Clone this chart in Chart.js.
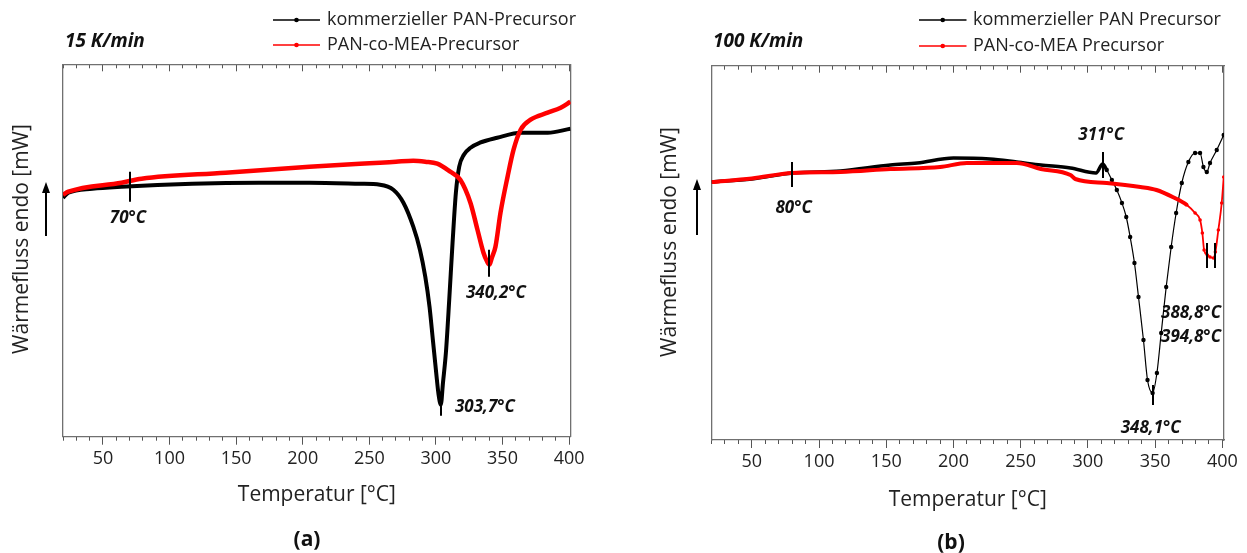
<!DOCTYPE html>
<html><head><meta charset="utf-8">
<script src="https://cdn.jsdelivr.net/npm/chart.js@4.4.1/dist/chart.umd.min.js"></script>
<style>
html,body{margin:0;padding:0;background:#fff;width:1247px;height:553px;overflow:hidden;}
canvas{position:absolute;top:0;}
#ca{left:0;} #cb{left:620px;}
</style></head><body>
<canvas id="ca" width="620" height="553"></canvas>
<canvas id="cb" width="627" height="553"></canvas>
<script>
// ---------- data (heat flow in arbitrary units) ----------
const xTickLabels = [50, 100, 150, 200, 250, 300, 350, 400];

// (a) 15 K/min
const aTitle = '15 K/min';
const aNames = ['kommerzieller PAN-Precursor', 'PAN-co-MEA-Precursor'];
const aBlackT = [20,24,42,64,117,167,205,243,258,268,275.6,283,288,292,295.2,297.7,300.2,302,303.7,305.3,307.5,310,312.5,315,317.5,321,326,333,346,364,384,401];
const aBlackV = [23.9,24.4,24.8,25.0,25.3,25.4,25.4,25.3,25.2,24.7,23.4,21.0,18.7,16.0,13.0,9.7,6.4,4.2,3.2,5.4,8.4,13.7,19.4,24.4,27.0,28.2,28.9,29.4,29.9,30.4,30.4,30.8];
const aRedT = [20,24,64,79,142,205,243,258,270,283,292,301,310.8,318.3,325.9,331.2,335.7,338.5,340.2,342,344.7,348.5,353.8,358.3,363.6,371.1,383.9,393.7,401];
const aRedV = [24.2,24.5,25.4,25.8,26.4,27.0,27.3,27.4,27.5,27.6,27.5,27.3,26.5,25.7,23.4,20.7,18.4,17.5,17.2,17.9,19.0,22.4,26.0,28.7,30.7,31.7,32.4,32.9,33.5];
const aPeakT = [70, 303.7, 340.2];
const aPeakText = ['70°C', '303,7°C', '340,2°C'];

// (b) 100 K/min
const bTitle = '100 K/min';
const bNames = ['kommerzieller PAN Precursor', 'PAN-co-MEA Precursor'];
const bBlackT = [20,50,80,116,153,173,200,227,247,265,287,306,311,314,317.8,321.5,325.3,328.5,331.4,334.6,337.6,341.3,344.3,348.1,351.3,354.5,358.2,361.9,365.6,369.8,374.7,379.7,383.4,385.9,388.4,390.8,395.8,401];
const bBlackV = [25.8,26.1,26.7,26.9,27.5,27.7,28.2,28.1,27.8,27.5,27.2,26.7,27.6,27.0,26.0,25.0,23.7,22.3,20.3,17.7,14.3,10.0,6.0,4.7,6.7,10.7,15.3,19.3,22.7,25.7,27.8,28.7,28.7,27.3,26.8,27.7,29.0,30.5];
const bRedT = [20,50,80,116,153,190,210,235,247,265,287,290.6,314,339,351,363,373.6,379.7,383.4,385.1,386.4,388.8,390.8,393.3,394.8,397,399.5,401];
const bRedV = [25.8,26.15,26.7,26.8,27.1,27.3,27.7,27.7,27.7,27.1,26.5,26.1,25.7,25.3,25.0,24.3,23.5,22.7,22.0,20.7,19.0,18.5,18.3,18.2,18.8,21.0,23.7,26.3];
const bPeakT = [80, 311, 348.1, 388.8, 394.8];
const bPeakText = ['80°C', '311°C', '348,1°C', '388,8°C', '394,8°C'];

// ---------- helpers ----------
Chart.defaults.font.family = '"Open Sans", "DejaVu Sans", sans-serif';
const BLACK = '#000000', RED = '#ff0000', AXIS = '#707070', TXT = '#222222';
const pts = (T, V) => T.map((t, i) => ({x: t, y: V[i]}));

const overlay = {
  id: 'overlay',
  beforeDatasetsDraw(chart, args, o) {
    const {ctx} = chart, xs = chart.scales.x, ys = chart.scales.y;
    ctx.save();
    ctx.fillStyle = '#111';
    ctx.font = 'italic bold 17px "Open Sans"';
    ctx.textAlign = 'center'; ctx.textBaseline = 'middle';
    o.labels.forEach(l => ctx.fillText(l.text, xs.getPixelForValue(l.t), ys.getPixelForValue(l.v)));
    ctx.restore();
  },
  afterDatasetsDraw(chart, args, o) {
    const {ctx} = chart, xs = chart.scales.x, ys = chart.scales.y;
    ctx.save();
    ctx.strokeStyle = '#000'; ctx.lineWidth = 2;
    o.markers.forEach(m => {
      const px = Math.round(xs.getPixelForValue(m.t));
      ctx.beginPath();
      ctx.moveTo(px, ys.getPixelForValue(m.y0));
      ctx.lineTo(px, ys.getPixelForValue(m.y1));
      ctx.stroke();
    });
    ctx.restore();
  },
  afterDraw(chart, args, o) {
    const {ctx} = chart;
    ctx.save();
    // panel heading
    ctx.fillStyle = '#111';
    ctx.font = 'italic bold 19px "Open Sans"';
    ctx.textAlign = 'left'; ctx.textBaseline = 'middle';
    ctx.fillText(o.heading.text, o.heading.x, o.heading.y);
    // legend
    ctx.font = '18px "Open Sans"';
    chart.data.datasets.forEach((ds, i) => {
      const y = o.legend.y[i];
      ctx.strokeStyle = ds.borderColor; ctx.lineWidth = 1.3;
      ctx.beginPath(); ctx.moveTo(o.legend.x0, y); ctx.lineTo(o.legend.x1, y); ctx.stroke();
      ctx.fillStyle = ds.borderColor;
      ctx.beginPath(); ctx.arc((o.legend.x0 + o.legend.x1) / 2, y, 2.3, 0, Math.PI * 2); ctx.fill();
      ctx.fillStyle = TXT;
      ctx.fillText(ds.label, o.legend.tx, y);
    });
    // y title
    ctx.save();
    ctx.translate(o.ytitle.x, o.ytitle.y);
    ctx.rotate(-Math.PI / 2);
    ctx.font = '21px "Open Sans"'; ctx.fillStyle = TXT;
    ctx.textAlign = 'center'; ctx.textBaseline = 'middle';
    ctx.fillText('Wärmefluss endo [mW]', 0, 0);
    ctx.restore();
    // arrow
    ctx.strokeStyle = '#000'; ctx.fillStyle = '#000'; ctx.lineWidth = 2;
    ctx.beginPath(); ctx.moveTo(o.arrow.x, o.arrow.y0); ctx.lineTo(o.arrow.x, o.arrow.y1 + 8); ctx.stroke();
    ctx.beginPath(); ctx.moveTo(o.arrow.x, o.arrow.y1); ctx.lineTo(o.arrow.x - 4, o.arrow.y1 + 11); ctx.lineTo(o.arrow.x + 4, o.arrow.y1 + 11); ctx.closePath(); ctx.fill();
    // panel letter
    ctx.font = 'bold 21px "Open Sans"'; ctx.fillStyle = '#111';
    ctx.textAlign = 'center';
    ctx.fillText(o.letter.text, o.letter.x, o.letter.y);
    ctx.restore();
  }
};

function hAxis(pos, step, tl, weight, xmax, extra) {
  return Object.assign({
    type: 'linear', position: pos, min: 20, max: xmax, weight: weight,
    ticks: {stepSize: step, includeBounds: false, display: false, autoSkip: false},
    grid: {drawOnChartArea: false, drawTicks: true, tickLength: tl, tickColor: '#555', tickWidth: 1},
    border: {display: false},
    afterFit: s => { s.height = 0; }
  }, extra || {});
}

function makeChart(id, p) {
  const thin = p.thin;
  const datasets = [
    {label: p.names[0], data: pts(p.blackT, p.blackV), borderColor: BLACK, backgroundColor: BLACK, order: 1,
     borderWidth: p.blackW, cubicInterpolationMode: 'monotone',
     segment: {borderWidth: c => (c.p0.parsed.x >= thin.black ? p.blackThinW : p.blackW)},
     pointRadius: c => (c.parsed && c.parsed.x >= thin.black ? p.blackDot : 0), pointHoverRadius: 0, pointBorderWidth: 0},
    {label: p.names[1], data: pts(p.redT, p.redV), borderColor: RED, backgroundColor: RED, order: 0,
     borderWidth: p.redW, cubicInterpolationMode: 'monotone',
     segment: {borderWidth: c => (c.p0.parsed.x >= thin.red ? p.redThinW : p.redW)},
     pointRadius: c => (c.parsed && c.parsed.x >= thin.red ? p.redDot : 0), pointHoverRadius: 0, pointBorderWidth: 0}
  ];
  return new Chart(document.getElementById(id), {
    type: 'line',
    data: {datasets},
    options: {
      responsive: false, animation: false, events: [],
      layout: {padding: {top: p.area.top, right: p.canvasW - p.area.right, bottom: 0, left: 0}},
      plugins: {legend: {display: false}, tooltip: {enabled: false}, overlay: p.overlay},
      scales: {
        x: {
          type: 'linear', position: 'bottom', min: 20, max: p.xmax, weight: 1,
          ticks: {stepSize: 50, includeBounds: false, autoSkip: false, maxRotation: 0, padding: 3,
                  color: TXT, font: {size: 18},
                  callback: v => (xTickLabels.includes(v) ? String(v) : '')},
          grid: {drawOnChartArea: false, tickLength: 8, tickColor: '#555', tickWidth: 1},
          border: {display: true, color: AXIS, width: 1.3},
          title: {display: true, text: 'Temperatur [°C]', color: TXT, font: {size: 21},
                  padding: {top: 0, bottom: p.xTitlePad}},
          afterFit: s => { s.height = 553 - p.area.bottom; }
        },
        xMinor: hAxis('bottom', 10, 4, 0, p.xmax),
        xTop: hAxis('top', 10, -4, 0, p.xmax, {border: {display: true, color: AXIS, width: 1.3}}),
        xTopMajor: hAxis('top', 50, -7, 1, p.xmax),
        y: {
          type: 'linear', position: 'left', min: 0, max: p.ymax,
          ticks: {display: false},
          grid: {drawOnChartArea: false, drawTicks: false},
          border: {display: true, color: AXIS, width: 1.3},
          afterFit: s => { s.width = p.area.left; }
        },
        yRight: {
          type: 'linear', position: 'right', min: 0, max: p.ymax,
          ticks: {display: false},
          grid: {drawOnChartArea: false, drawTicks: false},
          border: {display: true, color: AXIS, width: 1.3},
          afterFit: s => { s.width = 0; }
        }
      }
    },
    plugins: [overlay]
  });
}

makeChart('ca', {
  canvasW: 620, area: {left: 63, right: 570.7, top: 64.3, bottom: 436.7},
  xmax: 401.2, ymax: 37.24, xTitlePad: 45.4,
  names: aNames, blackT: aBlackT, blackV: aBlackV, redT: aRedT, redV: aRedV,
  blackW: 4, blackThinW: 4, blackDot: 0, redW: 4.5, redThinW: 4.5, redDot: 0,
  thin: {black: 1000, red: 1000},
  overlay: {
    heading: {text: aTitle, x: 65, y: 42},
    legend: {x0: 273, x1: 320, tx: 327, y: [20, 45]},
    ytitle: {x: 22, y: 239},
    arrow: {x: 46, y0: 236, y1: 182},
    letter: {text: '(a)', x: 307, y: 540},
    markers: [{t: aPeakT[0], y0: 23.5, y1: 26.5}, {t: aPeakT[1], y0: 2.1, y1: 4.5}, {t: aPeakT[2], y0: 16.0, y1: 18.7}],
    labels: [{text: aPeakText[0], t: 68.8, v: 21.9}, {text: aPeakText[1], t: 336.8, v: 3.0}, {text: aPeakText[2], t: 345.1, v: 14.4}]
  }
});

makeChart('cb', {
  canvasW: 627, area: {left: 91.5, right: 604, top: 65.7, bottom: 440},
  xmax: 401.2, ymax: 37.43, xTitlePad: 40.4,
  names: bNames, blackT: bBlackT, blackV: bBlackV, redT: bRedT, redV: bRedV,
  blackW: 3.5, blackThinW: 1.2, blackDot: 2.2, redW: 4, redThinW: 1.8, redDot: 1.8,
  thin: {black: 314, red: 372},
  overlay: {
    heading: {text: bTitle, x: 93, y: 42},
    legend: {x0: 299, x1: 346.5, tx: 353, y: [20, 46]},
    ytitle: {x: 50, y: 242},
    arrow: {x: 77, y0: 235, y1: 179},
    letter: {text: '(b)', x: 331, y: 543},
    markers: [{t: bPeakT[0], y0: 25.3, y1: 27.8}, {t: bPeakT[1], y0: 26.2, y1: 28.8}, {t: bPeakT[2], y0: 3.5, y1: 5.5},
              {t: bPeakT[3], y0: 17.2, y1: 19.7}, {t: bPeakT[4], y0: 17.2, y1: 19.7}],
    labels: [{text: bPeakText[0], t: 81.1, v: 23.2}, {text: bPeakText[1], t: 309.9, v: 30.5}, {text: bPeakText[2], t: 346.7, v: 1.2},
             {text: bPeakText[3], t: 376.7, v: 12.7}, {text: bPeakText[4], t: 376.7, v: 10.3}]
  }
});
</script>
</body></html>
